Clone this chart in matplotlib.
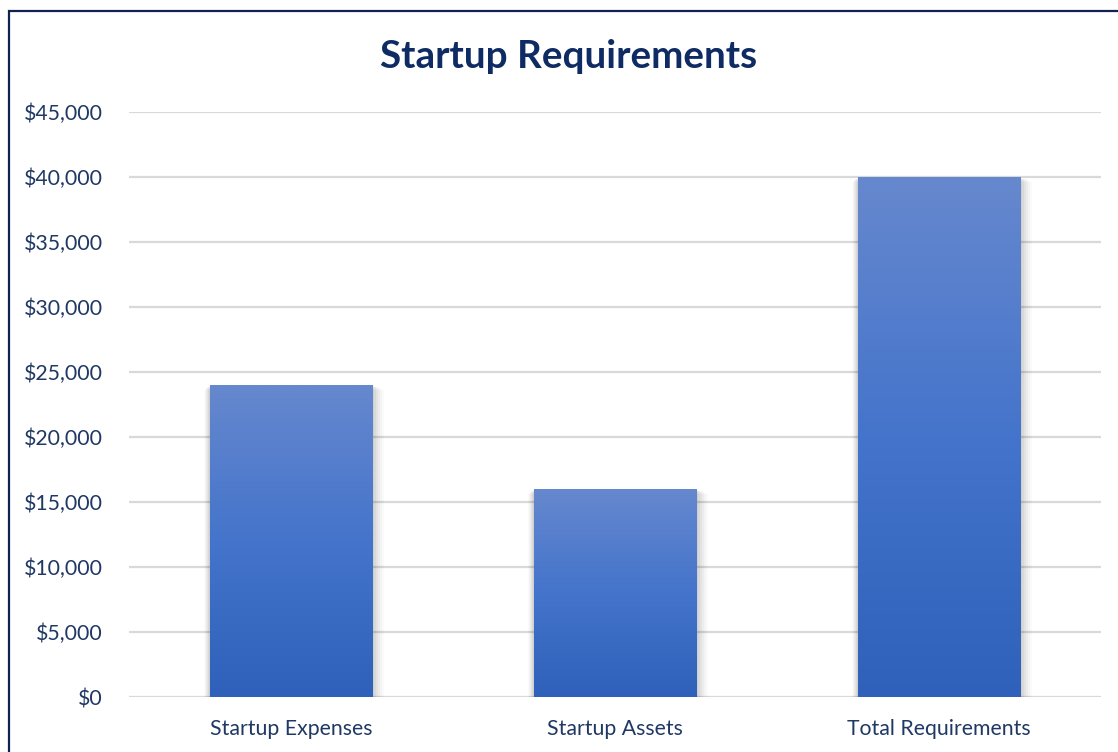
import numpy as np
import matplotlib
matplotlib.use("Agg")
import matplotlib.pyplot as plt
from matplotlib.patches import Rectangle
from matplotlib.colors import LinearSegmentedColormap
from matplotlib.ticker import FuncFormatter

categories = ["Startup Expenses", "Startup Assets", "Total Requirements"]
values = [24000, 16000, 40000]
yticks = [0, 5000, 10000, 15000, 20000, 25000, 30000, 35000, 40000, 45000]
title = "Startup Requirements"

plt.rcParams['font.family'] = ['Lato', 'DejaVu Sans']
navy = "#0E2B63"
tick_color = "#1F3864"

W, H = 1118, 752
fig = plt.figure(figsize=(W / 100, H / 100), dpi=100)
ax = fig.add_axes([129 / W, 1 - 697 / H, (1101 - 129) / W, (697 - 112) / H])

ax.set_xlim(-0.5, len(categories) - 0.5)
ax.set_ylim(0, 45000)
ax.set_yticks(yticks)
ax.yaxis.set_major_formatter(FuncFormatter(lambda v, p: "${:,.0f}".format(v)))
ax.set_xticks(range(len(categories)))
ax.set_xticklabels(categories)
for s in ax.spines.values():
    s.set_visible(False)
ax.tick_params(axis='both', length=0, labelsize=15.3, colors=tick_color)
ax.tick_params(axis='y', pad=19)
ax.tick_params(axis='x', pad=16)
ax.grid(axis='y', color="#D9D9D9", linewidth=1.6, zorder=0)
ax.set_axisbelow(True)

cmap = LinearSegmentedColormap.from_list("g", ["#2F61BA", "#4474CB", "#6688CE"])
grad = np.linspace(0, 1, 256).reshape(-1, 1)
bw = 0.503
bars = ax.bar(range(len(categories)), values, width=bw, color='none', zorder=3)
for b, v in zip(bars, values):
    x0 = b.get_x()
    # soft shadow
    for i, a in enumerate([0.04, 0.04, 0.035, 0.03, 0.025, 0.02]):
        dx = 0.005 * (i + 1)
        sh = Rectangle((x0 - dx * 0.6, -90 * (i + 1)), bw + dx * 1.8, v + 60 * (i + 1) * 0.5,
                       facecolor='black', alpha=a, edgecolor='none', zorder=2)
        ax.add_patch(sh)
    im = ax.imshow(grad, cmap=cmap, origin='lower', aspect='auto',
                   extent=(x0, x0 + bw, 0, v), zorder=3)
    im.set_clip_path(b)
ax.set_xlim(-0.5, len(categories) - 0.5)
ax.set_ylim(0, 45000)

fig.text(569 / W, 1 - 57 / H, title, ha='center', va='center',
         fontsize=27.8, fontweight='bold', color=navy)

border = Rectangle((8.5 / W, -0.1), 1.2, 1 - 10.5 / H + 0.1, transform=fig.transFigure,
                   fill=False, edgecolor="#0E2350", linewidth=1.6)
fig.add_artist(border)

fig.savefig("out.png", dpi=100, facecolor='white')
